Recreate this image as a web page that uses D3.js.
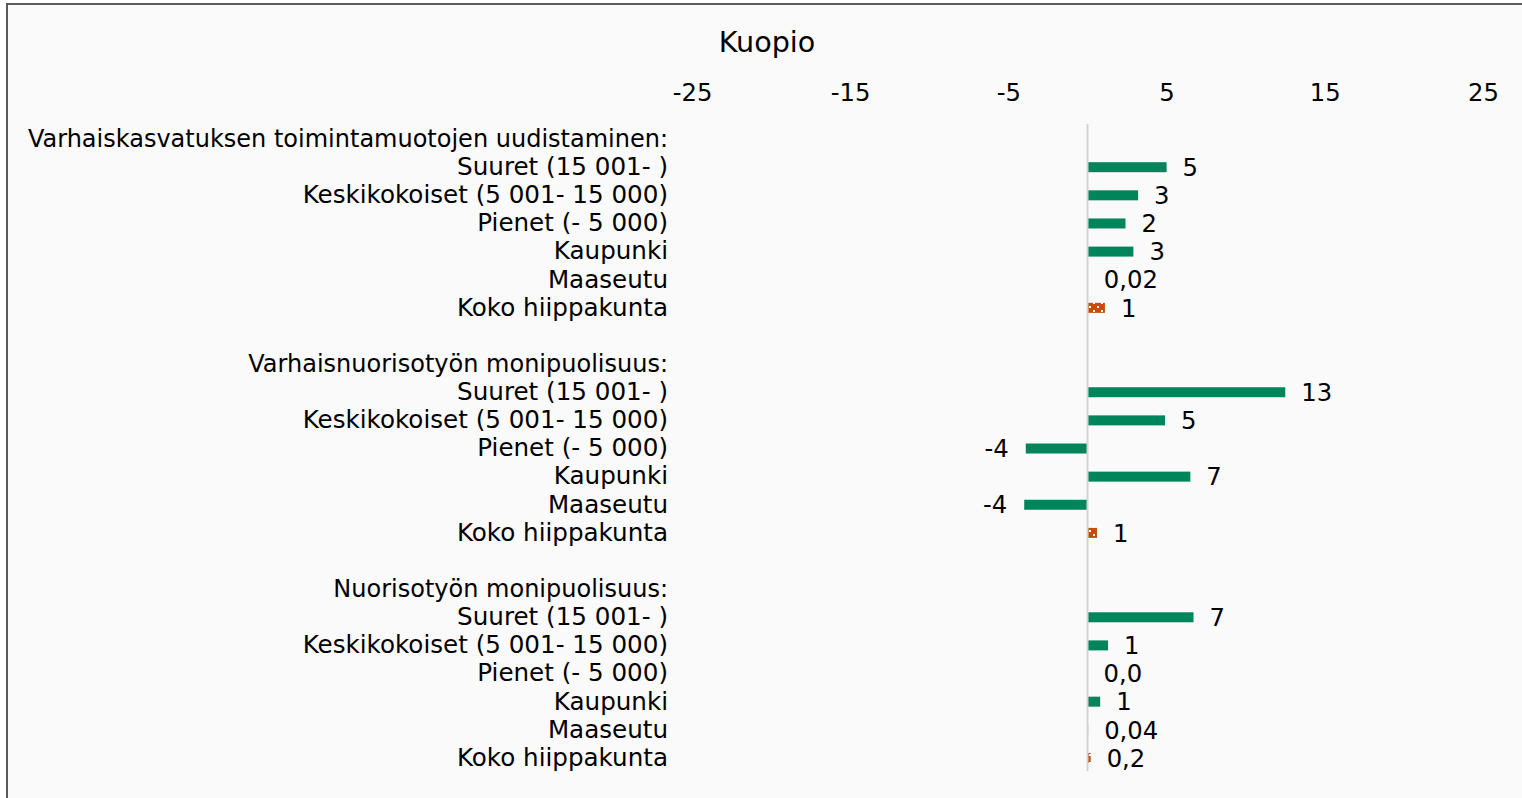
<!DOCTYPE html>
<html lang="fi">
<head>
  <meta charset="UTF-8">
  <title>Kuopio</title>
  <script src="https://d3js.org/d3.v7.min.js"></script>
  <style>
    body { margin: 0; overflow: hidden; background: #ffffff; }
    svg text { font-family: "DejaVu Sans", Verdana, sans-serif; fill: #000; }
  </style>
</head>
<body>
  <script>
    const width = 1522;
    const height = 798;

    // data
    const groups = [
      "Varhaiskasvatuksen toimintamuotojen uudistaminen:",
      "Varhaisnuorisotyön monipuolisuus:",
      "Nuorisotyön monipuolisuus:"
    ];
    const items = ["Suuret (15 001- )", "Keskikokoiset (5 001- 15 000)", "Pienet (- 5 000)", "Kaupunki", "Maaseutu", "Koko hiippakunta"];
    const values = [
      [5.0, 3.2, 2.4, 2.9, 0.02, 1.1],
      [12.5, 4.9, -3.9, 6.5, -4.0, 0.6],
      [6.7, 1.3, 0.0, 0.8, 0.04, 0.2]
    ];
    const valueLabels = [
      ["5", "3", "2", "3", "0,02", "1"],
      ["13", "5", "-4", "7", "-4", "1"],
      ["7", "1", "0,0", "1", "0,04", "0,2"]
    ];
    const tickValues = [-25, -15, -5, 5, 15, 25];

    // build rows: header, six items, blank between groups
    const rows = [];
    groups.forEach((g, gi) => {
      if (gi > 0) rows.push({ key: "blank" + gi, label: "", type: "blank" });
      rows.push({ key: "h" + gi, label: g, type: "header" });
      items.forEach((it, ii) => {
        rows.push({
          key: gi + "-" + ii, label: it, type: "item",
          value: values[gi][ii], text: valueLabels[gi][ii], total: ii === items.length - 1
        });
      });
    });

    const svg = d3.select("body").append("svg")
      .attr("width", width)
      .attr("height", height);

    const defs = svg.append("defs");
    const pat = defs.append("pattern")
      .attr("id", "dots")
      .attr("patternUnits", "userSpaceOnUse")
      .attr("width", 8).attr("height", 8);
    pat.append("rect").attr("width", 8).attr("height", 8).attr("fill", "#c84b08");
    pat.append("rect").attr("x", 1).attr("y", 2).attr("width", 2).attr("height", 2).attr("fill", "#fff");
    pat.append("rect").attr("x", 5).attr("y", 6).attr("width", 2).attr("height", 2).attr("fill", "#fff");

    // frame
    svg.append("rect")
      .attr("x", 7).attr("y", 4)
      .attr("width", width).attr("height", height)
      .attr("fill", "#fafafa")
      .attr("stroke", "#5a5a5a")
      .attr("stroke-width", 2);

    svg.append("text")
      .attr("x", 767).attr("y", 52)
      .attr("text-anchor", "middle")
      .style("font-size", "28.6px")
      .text("Kuopio");

    const x = d3.scaleLinear().domain([-25, 25]).range([692, 1483]);
    const y = d3.scaleBand().domain(rows.map(d => d.key)).range([124, 771]);

    const axis = svg.append("g")
      .attr("transform", "translate(0,101)")
      .call(d3.axisTop(x).tickValues(tickValues).tickSize(0).tickPadding(0).tickFormat(d => String(d)));
    axis.select(".domain").remove();
    axis.selectAll("text")
      .attr("dy", 0)
      .style("font-family", "'DejaVu Sans', Verdana, sans-serif")
      .style("font-size", "24.3px")
      .attr("fill", "#000");

    // category labels
    svg.append("g").selectAll("text")
      .data(rows.filter(d => d.type !== "blank"))
      .join("text")
      .attr("x", 668)
      .attr("y", d => y(d.key) + y.bandwidth() / 2)
      .attr("dy", "0.36em")
      .attr("text-anchor", "end")
      .style("font-size", d => d.type === "header" ? "24px" : "24.6px")
      .text(d => d.label);

    const itemRows = rows.filter(d => d.type === "item");
    const barH = 10;

    // bars
    svg.append("g").selectAll("rect")
      .data(itemRows)
      .join("rect")
      .attr("x", d => x(Math.min(0, d.value)))
      .attr("y", d => y(d.key) + y.bandwidth() / 2 - barH / 2 + 1)
      .attr("width", d => Math.abs(x(d.value) - x(0)))
      .attr("height", barH)
      .attr("fill", d => d.total ? "url(#dots)" : "#00845a");

    // zero line
    svg.append("line")
      .attr("x1", x(0)).attr("x2", x(0))
      .attr("y1", 124).attr("y2", 771)
      .attr("stroke", "#d4d4d4")
      .attr("stroke-width", 2);

    // value labels
    svg.append("g").selectAll("text")
      .data(itemRows)
      .join("text")
      .attr("x", d => d.value < 0 ? x(d.value) - 17 : x(d.value) + 16)
      .attr("y", d => y(d.key) + y.bandwidth() / 2)
      .attr("dy", "0.4em")
      .attr("text-anchor", d => d.value < 0 ? "end" : "start")
      .style("font-size", "24.3px")
      .text(d => d.text);
  </script>
</body>
</html>
